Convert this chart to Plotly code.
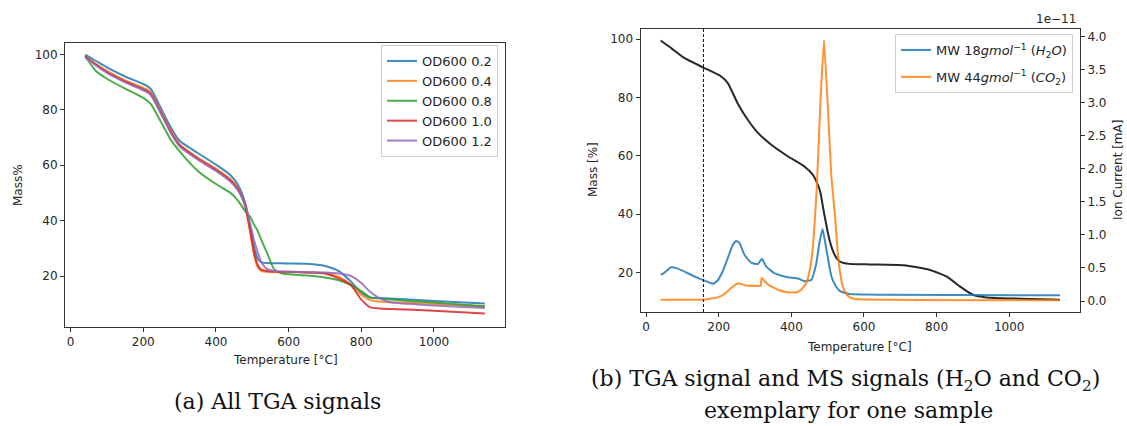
import plotly.graph_objects as go

# ---------------- data: (a) all TGA signals ----------------
temp_a = [40, 70, 100, 150, 200, 220, 250, 275, 300, 350, 400, 440, 460, 480, 495, 505,
          515, 525, 540, 560, 580, 600, 650, 700, 740, 770, 800, 825, 850, 880, 1000, 1140]
od_02 = [99.9, 97.6, 95.3, 92.0, 89.3, 87.6, 80.2, 73.8, 68.8, 64.4, 60.2, 56.4, 53.0, 46.5, 37.5, 30.5,
         26.2, 24.9, 24.7, 24.6, 24.6, 24.5, 24.4, 23.6, 21.6, 18.2, 14.0, 12.2, 12.1, 11.9, 11.0, 10.1]
od_04 = [99.4, 96.5, 94.0, 90.6, 87.9, 86.3, 79.0, 72.6, 67.5, 62.7, 58.7, 54.9, 51.8, 45.5, 35.0, 27.5,
         23.2, 21.8, 21.5, 21.4, 21.4, 21.4, 21.3, 21.0, 19.6, 17.0, 13.3, 11.3, 10.8, 10.5, 10.0, 9.0]
od_08 = [99.3, 93.9, 91.2, 87.6, 84.3, 82.2, 75.3, 69.3, 65.0, 57.9, 53.2, 50.0, 47.3, 43.5, 41.2, 38.5,
         36.2, 33.0, 28.5, 22.5, 21.0, 20.6, 20.2, 19.5, 18.4, 16.8, 14.6, 12.3, 11.9, 11.5, 10.4, 9.1]
od_10 = [99.2, 96.3, 93.6, 90.2, 87.4, 85.8, 78.6, 72.2, 67.2, 62.4, 58.3, 54.5, 51.5, 45.5, 35.8, 28.5,
         24.0, 22.3, 21.8, 21.6, 21.5, 21.5, 21.3, 20.9, 19.0, 16.9, 11.5, 8.7, 8.3, 8.1, 7.5, 6.5]
od_12 = [99.0, 96.0, 93.3, 89.9, 87.0, 85.4, 78.2, 71.8, 66.8, 62.0, 57.9, 54.0, 51.0, 46.0, 38.5, 32.8,
         28.5, 25.0, 22.6, 21.8, 21.6, 21.5, 21.4, 21.3, 20.9, 20.1, 17.5, 14.2, 12.0, 10.5, 9.4, 8.5]
series_names = ["OD600 0.2", "OD600 0.4", "OD600 0.8", "OD600 1.0", "OD600 1.2"]

# ---------------- data: (b) TGA + MS for one sample ----------------
temp_tga = [40, 70, 105, 156, 205, 225, 252, 280, 308, 344, 390, 436, 459, 473, 480, 487, 497, 505,
            515, 525, 535, 560, 615, 710, 780, 827, 864, 900, 937, 1030, 1140]
mass_tga = [99.5, 96.8, 93.5, 90.3, 87.3, 84.9, 78.0, 72.3, 67.8, 63.8, 59.8, 56.3, 53.5, 50.0, 47.5, 42.5, 35.8, 31.2,
            27.2, 24.8, 23.6, 22.9, 22.7, 22.4, 20.9, 18.6, 15.2, 12.3, 11.4, 10.95, 10.6]

temp_h2o = [40, 46, 69, 87, 115, 142, 170, 184, 197, 211, 225, 239, 248, 257, 271, 289, 308, 319, 331,
            354, 390, 418, 436, 455, 468, 478, 486, 496, 510, 523, 534, 561, 660, 1140]
ion_h2o = [0.40, 0.41, 0.51, 0.49, 0.42, 0.35, 0.29, 0.26, 0.31, 0.45, 0.65, 0.85, 0.91, 0.88, 0.70, 0.58, 0.56, 0.64, 0.52,
           0.42, 0.36, 0.34, 0.30, 0.32, 0.55, 0.90, 1.09, 0.80, 0.38, 0.22, 0.15, 0.106, 0.096, 0.086]  # x 1e-11

temp_co2 = [40, 160, 197, 216, 234, 253, 271, 315, 318, 322, 335, 363, 390, 413, 427, 441, 450, 460, 470,
            480, 490, 500, 510, 520, 530, 540, 550, 560, 575, 1140]
ion_co2 = [0.02, 0.02, 0.056, 0.106, 0.197, 0.27, 0.24, 0.23, 0.35, 0.33, 0.25, 0.17, 0.13, 0.13, 0.17, 0.27, 0.45, 0.85, 1.7,
           3.0, 3.95, 3.0, 1.9, 1.3, 0.6, 0.25, 0.12, 0.06, 0.03, 0.01]  # x 1e-11

marker_temp = 158

x_ticks = [0, 200, 400, 600, 800, 1000]
y_ticks = [20, 40, 60, 80, 100]
ion_ticks = [0.0, 0.5, 1.0, 1.5, 2.0, 2.5, 3.0, 3.5, 4.0]

# ---------------- styling ----------------
W, H = 1127, 426
colors = ["#1f77b4", "#ff7f0e", "#2ca02c", "#d62728", "#9467bd"]
FONT = "DejaVu Sans"
TXT = "#262626"


def px(x):
    return x / W


def py(y):
    return 1 - y / H


fig = go.Figure()

for name, vals, c in zip(series_names, [od_02, od_04, od_08, od_10, od_12], colors):
    fig.add_trace(go.Scatter(x=temp_a, y=vals, name=name, mode="lines",
                             line=dict(color=c, width=2, shape="spline", smoothing=0.6),
                             opacity=0.85, xaxis="x", yaxis="y", legend="legend"))

fig.add_trace(go.Scatter(x=temp_tga, y=mass_tga, name="TGA", mode="lines", showlegend=False,
                         line=dict(color="#111111", width=2, shape="spline", smoothing=0.5),
                         opacity=0.9, xaxis="x2", yaxis="y2"))
fig.add_trace(go.Scatter(x=temp_h2o, y=ion_h2o, mode="lines", legendgroup="h2o",
                         name="MW 18<i>gmol</i><sup>−1</sup> (<i>H</i><sub>2</sub><i>O</i>)",
                         line=dict(color=colors[0], width=2, shape="spline", smoothing=0.4),
                         opacity=0.85, xaxis="x2", yaxis="y3", legend="legend2"))
fig.add_trace(go.Scatter(x=temp_co2, y=ion_co2, mode="lines", legendgroup="co2",
                         name="MW 44<i>gmol</i><sup>−1</sup> (<i>CO</i><sub>2</sub>)",
                         line=dict(color=colors[1], width=2, shape="spline", smoothing=0.3),
                         opacity=0.85, xaxis="x2", yaxis="y3", legend="legend2"))

ax_common = dict(showgrid=False, zeroline=False, showline=True, linecolor="#333333", linewidth=1,
                 ticks="outside", ticklen=4, tickwidth=1, tickcolor="#333333",
                 tickfont=dict(family=FONT, size=12, color=TXT))

fig.update_layout(
    width=W, height=H, margin=dict(l=0, r=0, t=0, b=0),
    paper_bgcolor="white", plot_bgcolor="white",
    font=dict(family=FONT, size=12, color=TXT),
    xaxis=dict(domain=[px(65), px(505)], anchor="y", range=[-15.5, 1195.5], tickvals=x_ticks,
               mirror=True, **ax_common),
    yaxis=dict(domain=[py(327), py(43)], anchor="x", range=[1.6, 104.1], tickvals=y_ticks,
               mirror=True, **ax_common),
    xaxis2=dict(domain=[px(640.5), px(1080)], anchor="y2", range=[-15.4, 1195], tickvals=x_ticks,
                mirror=True, **ax_common),
    yaxis2=dict(domain=[py(312), py(28.5)], anchor="x2", range=[6.4, 103.6], tickvals=y_ticks,
                **ax_common),
    yaxis3=dict(overlaying="y2", anchor="x2", side="right", range=[-0.166, 4.124],
                tickvals=ion_ticks, tickformat=".1f", **ax_common),
    legend=dict(x=px(498), y=py(45), xanchor="right", yanchor="top",
                bgcolor="rgba(255,255,255,0.8)", bordercolor="#cccccc", borderwidth=1,
                font=dict(family=FONT, size=13, color=TXT)),
    legend2=dict(x=px(1073), y=py(34), xanchor="right", yanchor="top", tracegroupgap=7,
                 bgcolor="rgba(255,255,255,0.8)", bordercolor="#cccccc", borderwidth=1,
                 font=dict(family=FONT, size=13, color=TXT)),
    showlegend=True,
)

fig.add_shape(type="line", xref="x2", yref="y2 domain", x0=marker_temp, x1=marker_temp, y0=0, y1=1,
              line=dict(color="#111111", width=1, dash="3px,2px"))

ann = [
    dict(text="Temperature [°C]", x=px(285), y=py(360), size=12, angle=0),
    dict(text="Mass%", x=px(18), y=py(185), size=12, angle=-90),
    dict(text="Temperature [°C]", x=px(860), y=py(347), size=12, angle=0),
    dict(text="Mass [%]", x=px(593), y=py(170), size=12, angle=-90),
    dict(text="Ion Current [mA]", x=px(1118), y=py(170), size=12, angle=-90),
]
for a in ann:
    fig.add_annotation(text=a["text"], x=a["x"], y=a["y"], xref="paper", yref="paper",
                       showarrow=False, textangle=a["angle"], xanchor="center", yanchor="middle",
                       font=dict(family=FONT, size=a["size"], color=TXT))

fig.add_annotation(text="1e−11", x=px(1078), y=py(19), xref="paper", yref="paper", showarrow=False,
                   xanchor="right", yanchor="middle", font=dict(family=FONT, size=12, color=TXT))

SERIF = "DejaVu Serif"
caps = [
    ("(a) All TGA signals", 277.5, 401),
    ("(b) TGA signal and MS signals (H<sub>2</sub>O and CO<sub>2</sub>)", 845.5, 380),
    ("exemplary for one sample", 848, 410),
]
for t, x, y in caps:
    fig.add_annotation(text=t, x=px(x), y=py(y), xref="paper", yref="paper", showarrow=False,
                       xanchor="center", yanchor="middle", font=dict(family=SERIF, size=22, color="#111111"))

fig.write_html("out.html")
